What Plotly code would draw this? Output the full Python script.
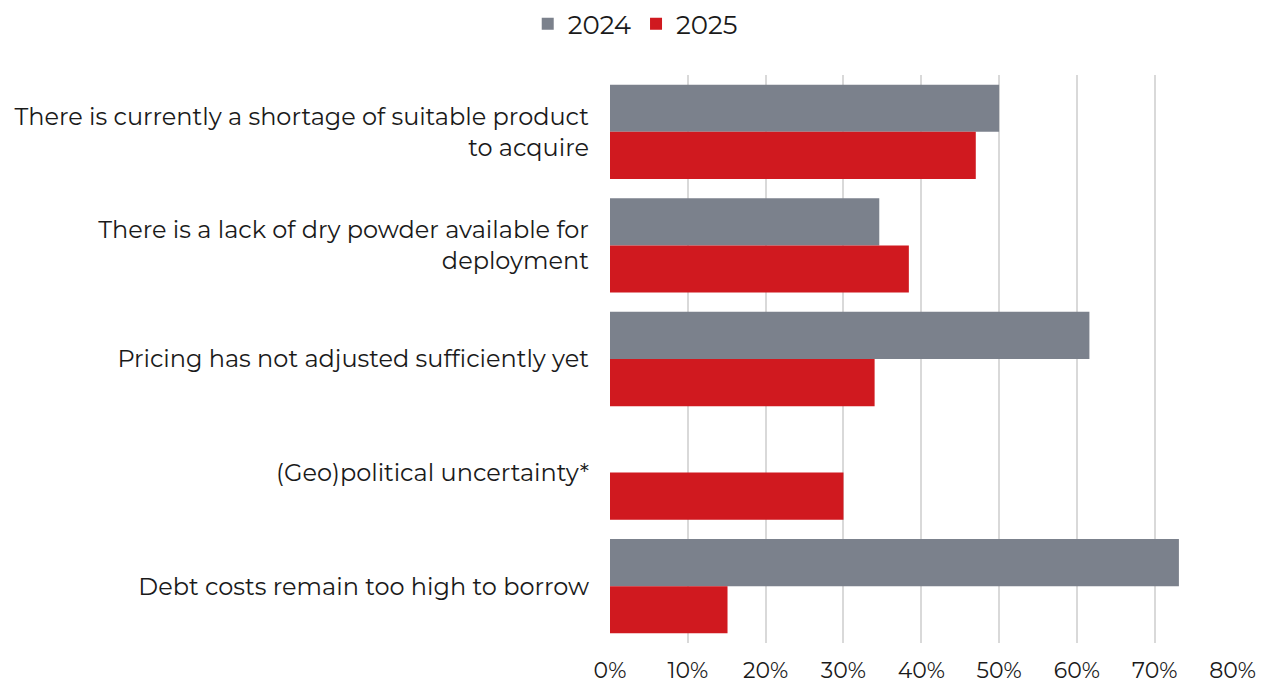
import plotly.graph_objects as go

# Survey responses: reasons holding back investment activity
categories = [
    "There is currently a shortage of suitable product<br>to acquire",
    "There is a lack of dry powder available for<br>deployment",
    "Pricing has not adjusted sufficiently yet",
    "(Geo)political uncertainty*",
    "Debt costs remain too high to borrow",
]
share_2024 = [0.50, 0.346, 0.616, None, 0.731]
share_2025 = [0.47, 0.384, 0.34, 0.30, 0.151]
x_ticks = [0, 0.1, 0.2, 0.3, 0.4, 0.5, 0.6, 0.7, 0.8]
x_tick_labels = ["0%", "10%", "20%", "30%", "40%", "50%", "60%", "70%", "80%"]

FONT = "Montserrat, Lato, 'Open Sans', sans-serif"
TEXT = "#1a1a1a"

fig = go.Figure()
fig.add_trace(go.Bar(
    name="2024", y=categories, x=share_2024, orientation="h",
    marker=dict(color="#7b818c", line=dict(width=0)),
))
fig.add_trace(go.Bar(
    name="2025", y=categories, x=share_2025, orientation="h",
    marker=dict(color="#d0191f", line=dict(width=0)),
))

fig.update_layout(
    width=1273, height=684,
    barmode="group", bargap=0.17, bargroupgap=0,
    plot_bgcolor="white", paper_bgcolor="white",
    margin=dict(l=610, r=40, t=75, b=41, autoexpand=False),
    font=dict(family=FONT, size=22, color=TEXT),
    legend=dict(
        orientation="h", xref="container", x=0.499, xanchor="center",
        yref="container", y=0.965, yanchor="middle",
        font=dict(size=26, color=TEXT),
        itemwidth=30, traceorder="normal",
    ),
    showlegend=True,
)
fig.update_xaxes(
    range=[0, 0.8005], tickvals=x_ticks, ticktext=x_tick_labels,
    showgrid=True, gridcolor="#d9d9d9", gridwidth=2,
    zeroline=False, showline=False, ticklabelstandoff=12, automargin=False,
    tickfont=dict(size=22, color=TEXT),
)
fig.update_yaxes(
    autorange="reversed", showgrid=False, showline=False, automargin=False,
    ticks="", ticklabelstandoff=20, tickfont=dict(size=24, color=TEXT),
)

fig.write_html("out.html")
